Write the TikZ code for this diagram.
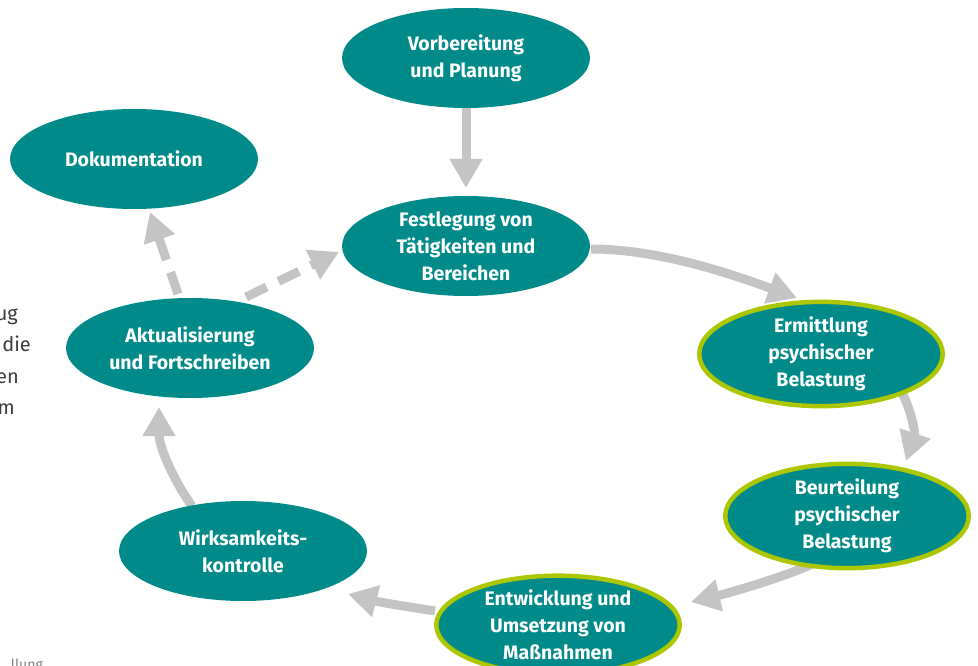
\documentclass[tikz,border=0pt]{standalone}
\usepackage{fontspec}
\setmainfont{Fira Sans}
\usetikzlibrary{shapes.geometric,arrows.meta,backgrounds}
\definecolor{teal}{RGB}{0,139,138}
\definecolor{lime}{RGB}{172,198,0}
\definecolor{arrowgray}{RGB}{195,196,195}
\definecolor{txtgray}{RGB}{60,60,60}
\tikzset{
  phase/.style={ellipse, fill=teal, minimum width=248pt, minimum height=100pt,
    inner sep=0pt, text=white, align=center,
    font=\bfseries\fontsize{19.5}{26.8}\selectfont},
  hl/.style={draw=lime, line width=4.5pt, minimum width=243.5pt, minimum height=95.5pt},
  flow/.style={draw=arrowgray, line width=9pt,
    -{Triangle[length=29pt,width=31pt]}},
  optflow/.style={flow, dash pattern=on 23pt off 13pt},
  frag/.style={inner sep=0pt, text=txtgray, font=\fontsize{20}{24}\selectfont}
}
\begin{document}
\begin{tikzpicture}[x=1pt,y=-1pt]
\useasboundingbox (0,0) rectangle (978,666);
\clip (0,0) rectangle (978,666);
% text fragments at the left border
\node[frag, anchor=base east] (f1) at (18,320) {ug};
\node[frag, anchor=base east] (f2) at (31,351) {die};
\node[frag, anchor=base east] (f3) at (19,383) {en};
\node[frag, anchor=base east] (f4) at (15,414) {m};
\node[inner sep=0pt, text=gray, font=\fontsize{14}{16}\selectfont, anchor=base east] (f5) at (43,669) {llung};
% phases
\node[phase] (vorb) at (466,58) {Vorbereitung\\und Planung};
\node[phase] (dok) at (134,159) {Dokumentation};
\node[phase] (fest) at (466,246) {Festlegung von\\Tätigkeiten und\\Bereichen};
\node[phase,hl] (erm) at (821,354) {Ermittlung\\psychischer\\Belastung};
\node[phase,hl] (beur) at (847,516) {Beurteilung\\psychischer\\Belastung};
\node[phase,hl] (entw) at (558,625) {Entwicklung und\\Umsetzung von\\Maßnahmen};
\node[phase] (wirk) at (243,551) {Wirksamkeits-\\kontrolle};
\node[phase] (akt) at (190,348) {Aktualisierung\\und Fortschreiben};
% connectors
\begin{pgfonlayer}{background}
\draw[flow] (vorb.south) -- ([shift={(0,-58)}]fest.center);
\draw[flow] ([shift={(125,3)}]fest.center)
  .. controls +(70,0) and +(-60,-22) .. ([shift={(-24,-56)}]erm.center);
\draw[flow] ([shift={(81,39)}]erm.center)
  .. controls +(8,14) and +(9.5,-28.5) .. ([shift={(59,-55)}]beur.center);
\draw[flow] ([shift={(-35,48)}]beur.center)
  .. controls +(-25,12) and +(40,-9.5) .. ([shift={(133,-23)}]entw.center);
\draw[flow] ([shift={(-123,-14)}]entw.center)
  .. controls +(-25,-4) and +(35,9) .. ([shift={(105,43)}]wirk.center);
\draw[flow] ([shift={(-51,-45)}]wirk.center)
  .. controls +(-18,-25) and +(0,40) .. ([shift={(-31,59)}]akt.center);
\draw[optflow] ([shift={(-12,-54)}]akt.center) -- ([shift={(16,53)}]dok.center);
\draw[optflow] ([shift={(56,-51)}]akt.center) -- ([shift={(-127,6)}]fest.center);
\end{pgfonlayer}
\end{tikzpicture}
\end{document}
